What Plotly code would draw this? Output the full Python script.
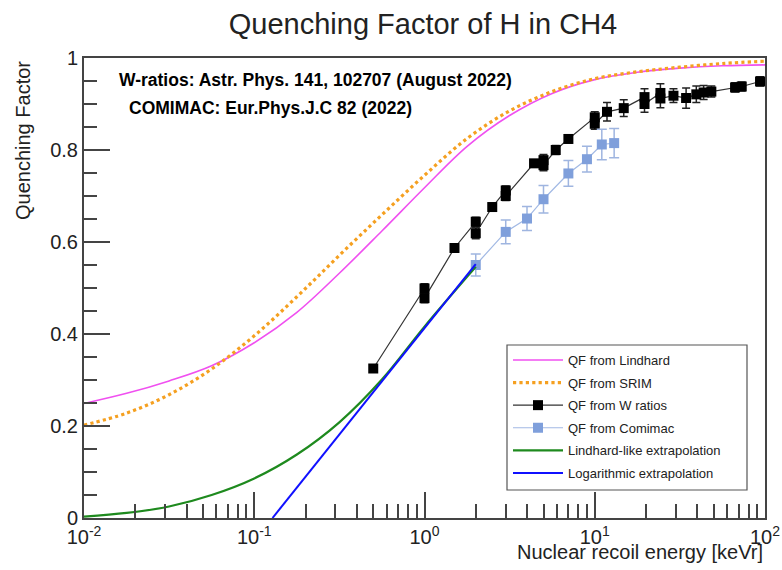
import plotly.graph_objects as go

# ---------------- data ----------------
lind_E = [0.01, 0.0178, 0.0316, 0.0562, 0.1, 0.178, 0.316, 0.562, 1, 1.78, 3.16, 5.62, 10, 17.8, 31.6, 56.2, 100]
lind_QF = [0.249, 0.271, 0.298, 0.331, 0.381, 0.447, 0.532, 0.624, 0.718, 0.808, 0.875, 0.923, 0.953, 0.969, 0.978, 0.983, 0.985]

srim_E = [0.01, 0.0178, 0.0316, 0.0562, 0.1, 0.178, 0.316, 0.562, 1, 1.78, 3.16, 5.62, 10, 17.8, 31.6, 56.2, 100]
srim_QF = [0.202, 0.228, 0.268, 0.324, 0.396, 0.481, 0.571, 0.659, 0.745, 0.825, 0.885, 0.927, 0.955, 0.970, 0.980, 0.988, 0.993]

w_E = [0.5, 1.0, 1.0, 1.5, 2.0, 2.0, 2.5, 3.0, 3.0, 4.4, 5.0, 5.0, 5.9, 7.0, 10, 10, 11.8, 14.8, 19.6, 19.6,
       24.3, 24.3, 29, 34.4, 39.5, 43.6, 48.4, 66.7, 73, 93.5]
w_QF = [0.325, 0.499, 0.478, 0.587, 0.644, 0.619, 0.676, 0.712, 0.700, 0.771, 0.778, 0.767, 0.800, 0.824, 0.871, 0.857, 0.883, 0.891, 0.915, 0.900,
        0.924, 0.912, 0.918, 0.913, 0.921, 0.925, 0.927, 0.936, 0.938, 0.949]
w_err = [0.006, 0.010, 0.010, 0.006, 0.010, 0.012, 0.008, 0.010, 0.010, 0.008, 0.012, 0.012, 0.010, 0.008, 0.012, 0.012, 0.020, 0.018, 0.018, 0.018,
         0.020, 0.020, 0.015, 0.022, 0.018, 0.015, 0.012, 0.010, 0.010, 0.010]

com_E = [2, 3, 4, 5, 7, 9, 11, 13]
com_QF = [0.550, 0.622, 0.651, 0.693, 0.749, 0.780, 0.812, 0.815]
com_err = [0.024, 0.026, 0.026, 0.030, 0.028, 0.028, 0.033, 0.032]

green_E = [0.01, 0.0178, 0.0316, 0.0562, 0.1, 0.178, 0.316, 0.562, 1, 2.0]
green_QF = [0.003, 0.011, 0.025, 0.050, 0.086, 0.138, 0.208, 0.301, 0.416, 0.546]

log_E = [0.128, 2.0]
log_QF = [0.0, 0.552]

x_tickvals = [0.01, 0.1, 1, 10, 100]
x_ticktext = ["10<sup>-2</sup>", "10<sup>-1</sup>", "10<sup>0</sup>", "10<sup>1</sup>", "10<sup>2</sup>"]
y_tickvals = [0, 0.2, 0.4, 0.6, 0.8, 1]
y_ticktext = ["0", "0.2", "0.4", "0.6", "0.8", "1"]

FONT = "Liberation Sans, Arial, Helvetica, sans-serif"
AX = "#444444"

fig = go.Figure()
fig.add_trace(go.Scatter(x=lind_E, y=lind_QF, mode="lines", name="QF from Lindhard", legendgroup="a",
                         line=dict(color="#f050f0", width=1.6, shape="spline", smoothing=1.0)))
fig.add_trace(go.Scatter(x=srim_E, y=srim_QF, mode="lines", name="QF from SRIM", legendgroup="b",
                         line=dict(color="#f5a020", width=3.2, dash="dot", shape="spline", smoothing=1.0)))
fig.add_trace(go.Scatter(x=w_E, y=w_QF, mode="lines+markers", name="QF from W ratios", legendgroup="c",
                         line=dict(color="#333333", width=1.2),
                         marker=dict(symbol="square", size=10, color="black"),
                         error_y=dict(type="data", array=w_err, color="#222222", thickness=1.5, width=4)))
fig.add_trace(go.Scatter(x=com_E, y=com_QF, mode="lines+markers", name="QF from Comimac", legendgroup="d",
                         line=dict(color="#a2b9e4", width=1.2),
                         marker=dict(symbol="square", size=10, color="#7f9fdb"),
                         error_y=dict(type="data", array=com_err, color="#9fb5e0", thickness=1.5, width=5)))
fig.add_trace(go.Scatter(x=green_E, y=green_QF, mode="lines", name="Lindhard-like extrapolation", legendgroup="e",
                         line=dict(color="#1e8a1e", width=2.2, shape="spline", smoothing=1.0)))
fig.add_trace(go.Scatter(x=log_E, y=log_QF, mode="lines", name="Logarithmic extrapolation", legendgroup="f",
                         line=dict(color="#1010ff", width=2)))

minor_x = [m * 10 ** k for k in (-2, -1, 0, 1) for m in range(2, 10)]

fig.update_xaxes(type="log", range=[-2, 2], tickmode="array", tickvals=x_tickvals, ticktext=x_ticktext,
                 ticks="inside", ticklen=26, tickwidth=1.5, tickcolor=AX, automargin=False,
                 showline=True, linecolor=AX, linewidth=2, mirror=True,
                 showgrid=False, zeroline=False,
                 tickfont=dict(family=FONT, size=20, color="#222222"),
                 minor=dict(tickmode="array", tickvals=minor_x, ticks="inside", ticklen=14,
                            tickwidth=1.5, tickcolor=AX, showgrid=False))
fig.update_yaxes(range=[0, 1], tickmode="array", tickvals=y_tickvals, ticktext=y_ticktext,
                 ticks="inside", ticklen=26, tickwidth=1.5, tickcolor=AX, automargin=False,
                 showline=True, linecolor=AX, linewidth=2, mirror=True,
                 showgrid=False, zeroline=False,
                 tickfont=dict(family=FONT, size=20, color="#222222"),
                 minor=dict(dtick=0.05, ticks="inside", ticklen=13, tickwidth=1.5, tickcolor=AX, showgrid=False))

fig.update_layout(
    width=782, height=570,
    margin=dict(l=84, r=17, t=58, b=52),
    paper_bgcolor="white", plot_bgcolor="white",
    font=dict(family=FONT, color="#222222"),
    title=dict(text="Quenching Factor of H in CH4", x=423 / 782, xanchor="center",
               y=1 - 24 / 570, yanchor="middle", yref="container",
               font=dict(family=FONT, size=29, color="#222222")),
    legend=dict(x=(508 - 84) / 681, y=(518 - 345) / 460, xanchor="left", yanchor="top",
                bgcolor="rgba(0,0,0,0)", borderwidth=0, tracegroupgap=2.7,
                font=dict(family=FONT, size=13, color="#222222"), itemwidth=50),
    showlegend=True,
)

# legend frame
fig.add_shape(type="rect", xref="paper", yref="paper",
              x0=(507 - 84) / 681, x1=(747 - 84) / 681, y0=(518 - 490) / 460, y1=(518 - 345) / 460,
              line=dict(color="#555555", width=1.2), fillcolor="white", layer="below")

fig.add_annotation(text="Quenching Factor", textangle=-90, xref="paper", yref="paper",
                   x=(23 - 84) / 681, y=(518 - 141) / 460, xanchor="center", yanchor="middle",
                   showarrow=False, font=dict(family=FONT, size=20, color="#222222"))
fig.add_annotation(text="Nuclear recoil energy [keVr]", xref="paper", yref="paper",
                   x=1.0, y=(518 - 552) / 460, xanchor="right", yanchor="middle",
                   showarrow=False, font=dict(family=FONT, size=20, color="#222222"))
fig.add_annotation(text="<b>W-ratios: Astr. Phys. 141, 102707 (August 2022)</b>", xref="paper", yref="paper",
                   x=(117 - 84) / 681, y=(518 - 80) / 460, xanchor="left", yanchor="middle",
                   showarrow=False, font=dict(family=FONT, size=17.5, color="black"))
fig.add_annotation(text="<b>COMIMAC: Eur.Phys.J.C 82 (2022)</b>", xref="paper", yref="paper",
                   x=(127 - 84) / 681, y=(518 - 108) / 460, xanchor="left", yanchor="middle",
                   showarrow=False, font=dict(family=FONT, size=17.5, color="black"))

fig.write_html("out.html", config={"displayModeBar": False},
               post_script="document.body.style.margin='0px';document.body.style.padding='0px';")
